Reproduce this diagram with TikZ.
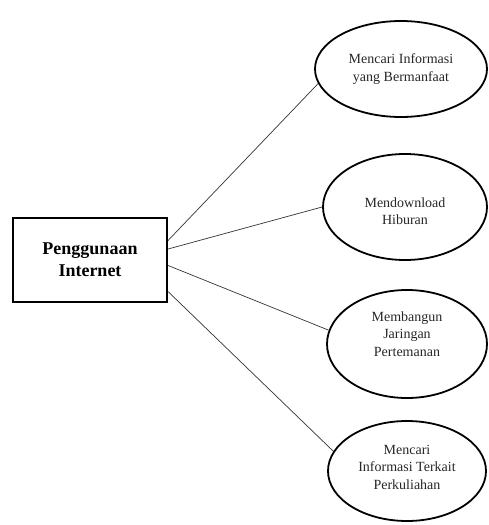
\documentclass[tikz,border=0pt]{standalone}
\usepackage{fontspec}
\setmainfont{Liberation Serif}
\usetikzlibrary{shapes.geometric}
\begin{document}
\begin{tikzpicture}[x=1pt,y=-1pt,
  ell/.style={draw=black,line width=1.8pt,ellipse,inner sep=0pt},
  ltext/.style={align=center,inner sep=0pt,font=\fontsize{14}{17.5}\selectfont,text=black!85},
  boxnode/.style={draw=black,line width=2pt,rectangle,inner sep=0pt,align=center,
    minimum width=154pt,minimum height=84pt,font=\fontsize{18}{22}\selectfont\bfseries},
  conn/.style={draw=black!80,line width=0.7pt}]
\useasboundingbox (0,0) rectangle (489,525);
\node[boxnode] (r) at (90,260) {Penggunaan\\Internet};
\node[ell,minimum width=172pt,minimum height=96pt] (e1) at (401,69) {};
\node[ell,minimum width=164pt,minimum height=106pt] (e2) at (405,207) {};
\node[ell,minimum width=160pt,minimum height=108pt] (e3) at (407,344) {};
\node[ell,minimum width=158pt,minimum height=100pt] (e4) at (407,471) {};
\node[ltext] (t1) at (401,69) {Mencari Informasi\\yang Bermanfaat};
\node[ltext] (t2) at (405,211) {Mendownload\\Hiburan};
\node[ltext] (t3) at (407,334) {Membangun\\Jaringan\\Pertemanan};
\node[ltext] (t4) at (407,467) {Mencari\\Informasi Terkait\\Perkuliahan};
\draw[conn] (r.14) -- (e1.190);
\draw[conn] (r.8) -- (e2.180);
\draw[conn] (r.-4.5) -- (e3.170);
\draw[conn] (r.-22) -- (e4.165);
\end{tikzpicture}
\end{document}
